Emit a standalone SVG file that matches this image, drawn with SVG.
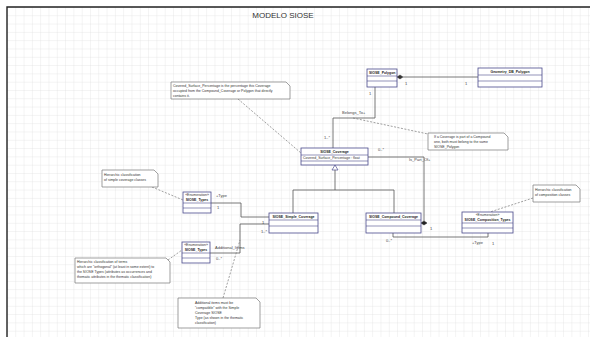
<svg xmlns="http://www.w3.org/2000/svg" width="590" height="337" viewBox="0 0 590 337">
<defs>
<pattern id="grid" x="7" y="7" width="8.3" height="8.3" patternUnits="userSpaceOnUse">
<path d="M8.3 0H0V8.3" fill="none" stroke="#dcdcdc" stroke-width="0.6"/>
</pattern>
<style>
.cls{fill:#fff;stroke:#4a4a8c;stroke-width:0.8}
.sep{stroke:#4a4a8c;stroke-width:0.6}
.note{fill:#fff;stroke:#777;stroke-width:0.7}
.t{font-family:"Liberation Sans",Arial,sans-serif;font-size:3.5px;fill:#333}
.nm{font-family:"Liberation Sans",Arial,sans-serif;font-size:3.5px;fill:#222;font-weight:bold}
.lbl{font-family:"Liberation Sans",Arial,sans-serif;font-size:4px;fill:#444}
.ln{fill:none;stroke:#555;stroke-width:0.8}
.dash{fill:none;stroke:#777;stroke-width:0.7;stroke-dasharray:2 1.5}
</style>
</defs>
<rect x="0" y="0" width="590" height="337" fill="#fff"/>
<rect x="7" y="7" width="583" height="330" fill="url(#grid)"/>
<path d="M7 337V7H590" fill="none" stroke="#222" stroke-width="1.4"/>
<text x="283" y="18" text-anchor="middle" font-family="Liberation Sans,Arial,sans-serif" font-size="8" fill="#333">MODELO SIOSE</text>

<g id="connectors">
<polyline class="ln" points="403,77 478,77"/>
<polygon points="397,77 400,75 403,77 400,79" fill="#333" stroke="#333" stroke-width="0.5"/>
<polyline class="ln" points="375,87 375,118 333,118 333,148"/>
<polyline class="ln" points="368,157 424,157 424,221"/>
<polygon points="421,223 424,221 427,223 424,225" fill="#222" stroke="#222" stroke-width="0.5"/>
<polygon points="335,165 332,170 338,170" fill="#fff" stroke="#4a4a8c" stroke-width="0.7"/>
<polyline class="ln" points="335,170 335,190"/>
<polyline class="ln" points="293,213 293,190 394,190 394,213"/>
<polyline class="ln" points="393,233 393,237 488,237 488,233"/>
<polyline class="ln" points="211,203 241,203 241,217 269,217"/>
<polyline class="ln" points="210,253 240,253 240,224 269,224"/>
<line class="dash" x1="238" y1="99" x2="301" y2="153"/>
<line class="dash" x1="353" y1="118" x2="428" y2="134"/>
<line class="dash" x1="152" y1="187" x2="183" y2="200"/>
<line class="dash" x1="168" y1="260" x2="182" y2="250"/>
<line class="dash" x1="533" y1="198" x2="490" y2="212"/>
<line class="dash" x1="223" y1="298" x2="240" y2="240"/>
<text class="lbl" x="342" y="114">Belongs_To+</text>
<text class="lbl" x="409" y="161">Is_Part_Of+</text>
<text class="lbl" x="216" y="197">+Type</text>
<text class="lbl" x="217" y="209">1</text>
<text class="lbl" x="215" y="249">Additional_Items</text>
<text class="lbl" x="216" y="260">0..*</text>
<text class="lbl" x="472" y="244">+Type</text>
<text class="lbl" x="492" y="245">1</text>
<text class="lbl" x="405" y="85">1</text>
<text class="lbl" x="465" y="85">1</text>
<text class="lbl" x="369" y="95">1</text>
<text class="lbl" x="324" y="139">1..*</text>
<text class="lbl" x="378" y="151">0..*</text>
<text class="lbl" x="430" y="230">1</text>
<text class="lbl" x="262" y="224">1</text>
<text class="lbl" x="261" y="233">1..*</text>
<text class="lbl" x="386" y="242">0..*</text>
</g>

<g id="SIOSE_Polygon">
<rect class="cls" x="367" y="69" width="30" height="18"/>
<line class="sep" x1="367" y1="76" x2="397" y2="76"/>
<line class="sep" x1="367" y1="81" x2="397" y2="81"/>
<text class="nm" x="369" y="74">SIOSE_Polygon</text>
</g>
<g id="Geometry_DB_Polygon">
<rect class="cls" x="478" y="68" width="64" height="19"/>
<line class="sep" x1="478" y1="75" x2="542" y2="75"/>
<line class="sep" x1="478" y1="81" x2="542" y2="81"/>
<text class="nm" x="510" y="73" text-anchor="middle">Geometry_DB_Polygon</text>
</g>
<g id="SIOSE_Coverage">
<rect class="cls" x="301" y="148" width="67" height="17"/>
<line class="sep" x1="301" y1="155" x2="368" y2="155"/>
<line class="sep" x1="301" y1="161" x2="368" y2="161"/>
<text class="nm" x="334.5" y="153.3" text-anchor="middle">SIOSE_Coverage</text>
<text class="t" x="303" y="159.3">Covered_Surface_Percentage : float</text>
</g>
<g id="SIOSE_Simple_Coverage">
<rect class="cls" x="269" y="213" width="49" height="20"/>
<line class="sep" x1="269" y1="220" x2="318" y2="220"/>
<line class="sep" x1="269" y1="226" x2="318" y2="226"/>
<text class="nm" x="293.5" y="218.3" text-anchor="middle">SIOSE_Simple_Coverage</text>
</g>
<g id="SIOSE_Compound_Coverage">
<rect class="cls" x="366" y="213" width="55" height="20"/>
<line class="sep" x1="366" y1="220" x2="421" y2="220"/>
<line class="sep" x1="366" y1="226" x2="421" y2="226"/>
<text class="nm" x="393.5" y="218.3" text-anchor="middle">SIOSE_Compound_Coverage</text>
</g>
<g id="SIOSE_Composition_Types">
<rect class="cls" x="462" y="212" width="51" height="21"/>
<line class="sep" x1="462" y1="223" x2="513" y2="223"/>
<line class="sep" x1="462" y1="228" x2="513" y2="228"/>
<text class="t" x="487.5" y="216" text-anchor="middle">«Enumeration»</text>
<text class="nm" x="487.5" y="221" text-anchor="middle">SIOSE_Composition_Types</text>
</g>
<g id="SIOSE_Types_1">
<rect class="cls" x="183" y="192" width="28" height="21"/>
<line class="sep" x1="183" y1="203" x2="211" y2="203"/>
<line class="sep" x1="183" y1="208" x2="211" y2="208"/>
<text class="t" x="197" y="196" text-anchor="middle">«Enumeration»</text>
<text class="nm" x="197" y="201" text-anchor="middle">SIOSE_Types</text>
</g>
<g id="SIOSE_Types_2">
<rect class="cls" x="182" y="242" width="28" height="21"/>
<line class="sep" x1="182" y1="253" x2="210" y2="253"/>
<line class="sep" x1="182" y1="258" x2="210" y2="258"/>
<text class="t" x="196" y="246" text-anchor="middle">«Enumeration»</text>
<text class="nm" x="196" y="251" text-anchor="middle">SIOSE_Types</text>
</g>

<g id="note_surface">
<path class="note" d="M171 82H286L290 86V99H171Z"/>
<text class="t" x="173" y="87">Covered_Surface_Percentage is the percentage this Coverage</text>
<text class="t" x="173" y="92">occupied from the Compound_Coverage or Polygon that directly</text>
<text class="t" x="173" y="97">contains it.</text>
</g>
<g id="note_compound">
<path class="note" d="M428 133H504L508 137V150H428Z"/>
<text class="t" x="434" y="138">If a Coverage is part of a Compound</text>
<text class="t" x="434" y="143">one, both must belong to the same</text>
<text class="t" x="434" y="148">SIOSE_Polygon</text>
</g>
<g id="note_simple_types">
<path class="note" d="M102 170H154L158 174V187H102Z"/>
<text class="t" x="104" y="176">Hierarchic classification</text>
<text class="t" x="104" y="181">of simple coverage classes</text>
</g>
<g id="note_terms">
<path class="note" d="M75 258H166L170 262V283H75Z"/>
<text class="t" x="77" y="263">Hierarchic classification of terms</text>
<text class="t" x="77" y="268">which are "orthogonal" (at least in some extent) to</text>
<text class="t" x="77" y="273">the SIOSE Types (attributes as occurrences and</text>
<text class="t" x="77" y="278">thematic attributes in the thematic classification)</text>
</g>
<g id="note_composition">
<path class="note" d="M533 185H576L580 189V202H533Z"/>
<text class="t" x="535" y="191">Hierarchic classification</text>
<text class="t" x="535" y="196">of composition classes</text>
</g>
<g id="note_additional">
<path class="note" d="M178 298H256L260 302V328H178Z"/>
<text class="t" x="195" y="304">Additional items must be</text>
<text class="t" x="195" y="309">"compatible" with the Simple</text>
<text class="t" x="195" y="314">Coverage SIOSE</text>
<text class="t" x="195" y="319">Type (as shown in the thematic</text>
<text class="t" x="195" y="324">classification)</text>
</g>
</svg>
